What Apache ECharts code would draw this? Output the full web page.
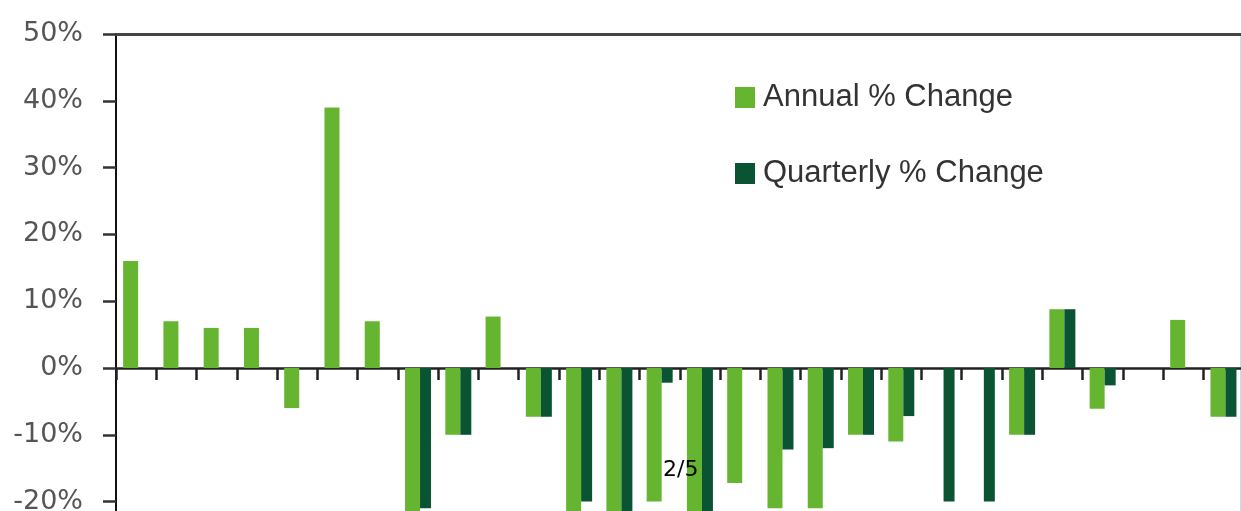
<!DOCTYPE html>
<html>
<head>
<meta charset="utf-8">
<script src="https://cdn.jsdelivr.net/npm/echarts@6/dist/echarts.min.js"></script>
<style>
html,body{margin:0;padding:0;background:#fff;}
#chart{width:1241px;height:511px;}
</style>
</head>
<body>
<div id="chart"></div>
<script>
var categories = ["P1","P2","P3","P4","P5","P6","P7","P8","P9","P10","P11","P12","P13","P14","P15","P16","P17","P18","P19","P20","P21","P22","P23","P24","P25","P26","P27","P28"];
var annualChange = [16, 7, 6, 6, -6, 39, 7, -23, -10, 7.7, -7.3, -23, -25, -20, -25, -17.2, -21, -21, -10, -11, null, null, -10, 8.8, -6.1, null, 7.2, -7.3];
var quarterlyChange = [null, null, null, null, null, null, null, -21, -10, null, -7.3, -20, -25, -2.2, -25, null, -12.2, -12, -10, -7.2, -20, -20, -10, 8.8, -2.6, null, null, -7.3];
var yTicks = {min: -30, max: 50, interval: 10};

var chart = echarts.init(document.getElementById('chart'));
chart.setOption({
  animation: false,
  backgroundColor: '#ffffff',
  grid: {left: 116, top: 34, width: 1127.6, height: 534.4, containLabel: false, outerBoundsMode: 'none'},
  legend: {
    orient: 'vertical',
    left: 735,
    top: 82,
    padding: 0,
    itemWidth: 20,
    itemHeight: 21,
    itemGap: 45,
    icon: 'rect',
    textStyle: {fontFamily: 'Liberation Sans', fontSize: 31, color: '#333', lineHeight: 31, padding: [0, 0, 0, 3]},
    data: ['Annual % Change', 'Quarterly % Change']
  },
  xAxis: [{
    type: 'category',
    data: categories,
    boundaryGap: true,
    axisLine: {onZero: true, lineStyle: {color: '#222', width: 2.5}},
    axisTick: {show: true, length: 12, lineStyle: {color: '#222', width: 2.5}},
    axisLabel: {show: false},
    splitLine: {show: false}
  }, {
    type: 'category',
    data: categories,
    position: 'top',
    axisLine: {show: true, onZero: false, lineStyle: {color: '#444', width: 3}},
    axisTick: {show: false},
    axisLabel: {show: false}
  }],
  yAxis: [{
    type: 'value',
    min: yTicks.min,
    max: yTicks.max,
    interval: yTicks.interval,
    axisLine: {show: true, onZero: false, lineStyle: {color: '#111', width: 2}},
    axisTick: {show: true, length: 13, lineStyle: {color: '#333', width: 2.5}},
    axisLabel: {
      margin: 33,
      fontFamily: 'DejaVu Sans',
      fontSize: 27,
      color: '#555',
      formatter: function (v) { return v + '%'; }
    },
    splitLine: {show: false}
  }, {
    type: 'value',
    position: 'right',
    offset: -3,
    min: yTicks.min,
    max: yTicks.max,
    interval: yTicks.interval,
    axisLine: {show: true, onZero: false, lineStyle: {color: '#d8d8d8', width: 1}},
    axisTick: {show: false},
    axisLabel: {show: false},
    splitLine: {show: false}
  }],
  series: [{
    name: 'Annual % Change',
    type: 'bar',
    data: annualChange,
    barWidth: 15,
    barGap: '0%',
    itemStyle: {color: '#66b530'}
  }, {
    name: 'Quarterly % Change',
    type: 'bar',
    data: quarterlyChange,
    barWidth: 11,
    barGap: '0%',
    itemStyle: {color: '#0b5433'}
  }],
  graphic: [{
    type: 'text',
    left: 663,
    top: 459,
    z: 100,
    style: {text: '2/5', fontFamily: 'DejaVu Sans', fontSize: 22, fill: '#000'}
  }]
});
</script>
</body>
</html>
